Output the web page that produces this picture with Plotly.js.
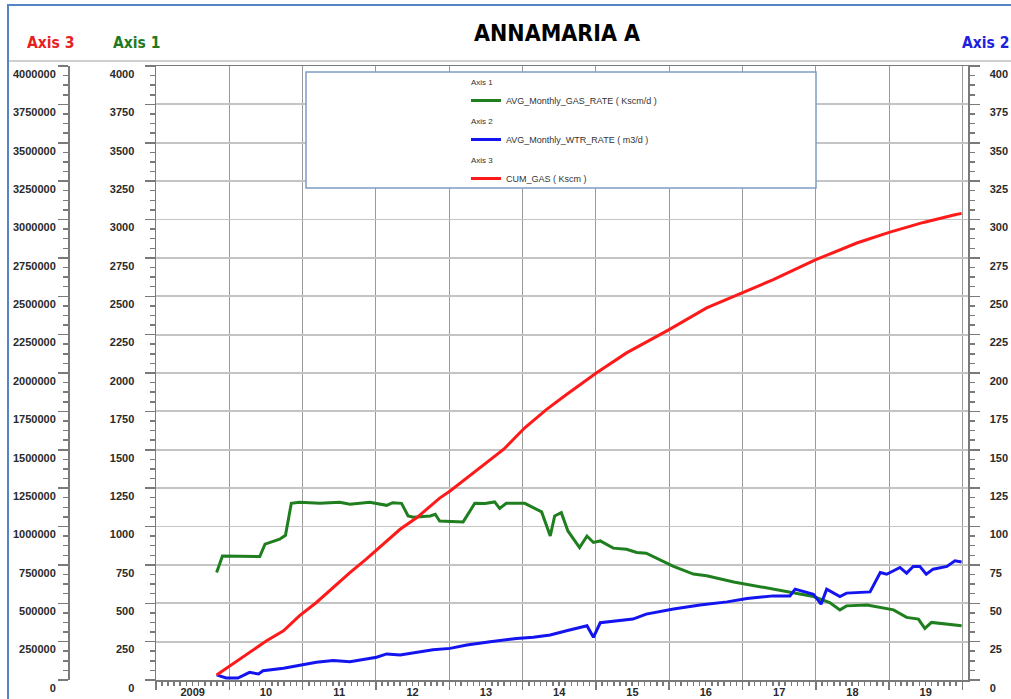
<!DOCTYPE html>
<html><head><meta charset="utf-8">
<script src="https://cdn.plot.ly/plotly-3.0.1.min.js"></script>
<style>html,body{margin:0;padding:0;background:#fff}#chart{width:1011px;height:699px}</style>
</head><body><div id="chart"></div><script>
// ---- data ----
const gasDates = ['2009-10-30','2009-11-28','2010-02-24','2010-06-02','2010-06-28','2010-09-09','2010-10-08','2010-11-06','2010-12-16','2011-03-29','2011-07-05','2011-08-25','2011-12-02','2012-02-24','2012-03-25','2012-05-08','2012-06-10','2012-07-06','2012-09-28','2012-10-23','2012-11-14','2013-03-11','2013-05-08','2013-06-28','2013-08-15','2013-09-09','2013-10-12','2014-01-12','2014-04-06','2014-05-19','2014-06-10','2014-07-13','2014-08-15','2014-10-12','2014-11-18','2014-12-20','2015-01-23','2015-03-29','2015-06-03','2015-07-24','2015-09-09','2015-11-14','2016-01-23','2016-05-01','2016-07-06','2016-11-18','2017-03-29','2017-09-09','2017-12-20','2018-03-11','2018-05-01','2018-06-03','2018-09-13','2019-01-23','2019-03-29','2019-05-27','2019-06-28','2019-07-31','2019-10-16','2019-12-28'];
const gasRate = [700,808,806,804,885,917,943,1151,1158,1152,1158,1145,1158,1138,1155,1151,1069,1060,1069,1080,1036,1030,1151,1150,1160,1118,1151,1151,1095,938,1069,1090,971,863,938,896,906,859,852,831,826,783,740,690,679,639,609,570,544,505,457,483,488,457,408,397,336,375,364,353];

const wtrDates = ['2009-10-30','2009-12-16','2010-02-13','2010-04-12','2010-05-27','2010-06-18','2010-09-28','2010-12-16','2011-03-11','2011-06-03','2011-08-25','2012-01-05','2012-02-24','2012-05-01','2012-07-24','2012-10-12','2013-01-05','2013-03-29','2013-07-24','2013-12-02','2014-02-24','2014-05-19','2014-08-08','2014-11-18','2014-12-20','2015-01-23','2015-07-05','2015-09-09','2016-01-23','2016-06-03','2016-10-16','2017-01-23','2017-06-03','2017-08-25','2017-09-20','2017-12-20','2018-01-27','2018-02-24','2018-05-01','2018-06-03','2018-09-28','2018-11-18','2018-12-20','2019-02-24','2019-03-29','2019-05-01','2019-06-03','2019-07-05','2019-08-08','2019-10-16','2019-11-25','2019-12-28'];
const wtrRate = [3.3,1.3,1.3,5,3.9,6,7.6,9.3,11.5,12.7,11.9,14.8,17,16.3,18,19.7,20.6,22.8,24.9,27.1,27.8,29.3,32.1,35.3,27.8,37.3,39.7,42.9,46.2,48.8,50.9,53.1,54.8,54.8,59.2,55.9,49.4,59.2,54.4,56.6,57.4,70,68.9,73.3,69.6,74,74,68.9,72.2,74,77.6,76.9];

const cumDates = ['2009-10-30','2010-01-19','2010-04-12','2010-07-06','2010-09-28','2010-12-16','2011-03-11','2011-06-03','2011-08-25','2011-11-14','2012-02-06','2012-05-01','2012-07-24','2012-10-12','2012-11-14','2013-01-05','2013-05-01','2013-09-28','2014-01-12','2014-05-01','2014-08-08','2015-01-05','2015-06-03','2016-01-01','2016-07-06','2017-01-05','2017-06-03','2018-01-01','2018-07-24','2019-01-01','2019-06-21','2019-11-25','2019-12-28'];
const cumGas = [33000,104000,180000,256000,321000,418000,505000,603000,700000,787000,885000,982000,1058000,1145000,1185000,1231000,1351000,1502000,1643000,1763000,1860000,2001000,2131000,2283000,2424000,2526000,2608000,2738000,2847000,2916000,2981000,3031000,3040000];

// first year is written in full, the others as two digits
const yearLabelAlias = {'09': '2009'};

const seriesNames = ['AVG_Monthly_GAS_RATE ( Kscm/d )','AVG_Monthly_WTR_RATE ( m3/d )','CUM_GAS ( Kscm )'];
const axisNames = ['Axis 1','Axis 2','Axis 3'];

// ---- styling ----
const GREEN = '#1f7f1f', BLUE = '#1414f0', RED = '#ff1a1a';
const NARROW = "'Liberation Sans Narrow', 'Arial Narrow', 'DejaVu Sans Condensed', sans-serif";
const SANS = "'Liberation Sans', Arial, sans-serif";
const tickFont = {family: SANS, size: 11, color: '#2a2a2a', weight: 'bold'};
const AX = '#7a7a7a';
const groupTitleFont = {family: SANS, size: 8, color: '#333'};

const traces = [
  {x: gasDates, y: gasRate, yaxis: 'y', xaxis: 'x', type: 'scatter', mode: 'lines', name: seriesNames[0],
   line: {color: GREEN, width: 3}, legendgroup: 'g1', legendgrouptitle: {text: axisNames[0], font: groupTitleFont}},
  {x: wtrDates, y: wtrRate, yaxis: 'y2', xaxis: 'x', type: 'scatter', mode: 'lines', name: seriesNames[1],
   line: {color: BLUE, width: 3}, legendgroup: 'g2', legendgrouptitle: {text: axisNames[1], font: groupTitleFont}},
  {x: cumDates, y: cumGas, yaxis: 'y3', xaxis: 'x', type: 'scatter', mode: 'lines', name: seriesNames[2],
   line: {color: RED, width: 3}, legendgroup: 'g3', legendgrouptitle: {text: axisNames[2], font: groupTitleFont}}
];

const W = 908, H = 614, L = 60, T = 66; // plotting paper size
const px = v => (v - L) / W;
const py = v => (T + H - v) / H;

const yCommon = {
  ticks: 'outside', ticklen: 10, tickwidth: 1.5, tickcolor: AX,
  showline: true, linecolor: AX, linewidth: 1.5,
  tickfont: tickFont, tickformat: 'd', zeroline: false, ticklabelshift: 8
};

const layout = {
  width: 1011, height: 699,
  margin: {l: L, r: 1011 - L - W, t: T, b: 699 - T - H},
  paper_bgcolor: '#ffffff', plot_bgcolor: '#ffffff',
  showlegend: true,
  title: {text: 'ANNAMARIA A', x: 0.551, xanchor: 'center', y: 0.953, yanchor: 'middle',
          font: {family: NARROW, size: 23, color: '#000', weight: 'bold'}},
  xaxis: {
    type: 'date', domain: [px(156), 1], range: ['2009-01-01', '2020-01-29'],
    tick0: '2009-01-01', dtick: 'M12', tickformat: '%y', ticklabelmode: 'period',
    labelalias: yearLabelAlias, tickfont: tickFont,
    ticks: 'outside', ticklen: 8, tickwidth: 1.5, tickcolor: AX, ticklabelstandoff: -7,
    minor: {dtick: 'M1', tick0: '2009-01-01', ticks: 'outside', ticklen: 4, tickcolor: AX, showgrid: false},
    showgrid: true, gridcolor: '#9a9a9a', gridwidth: 1,
    showline: true, linecolor: AX, linewidth: 1.5, mirror: true, zeroline: false
  },
  yaxis: Object.assign({}, yCommon, {
    range: [0, 4000], dtick: 250, side: 'left', anchor: 'x',
    showgrid: true, gridcolor: '#c4c4c4', gridwidth: 1.8,
    minor: {dtick: 62.5, ticks: 'outside', ticklen: 5, tickcolor: AX, showgrid: false},
    ticklabelstandoff: 8
  }),
  yaxis2: Object.assign({}, yCommon, {
    range: [0, 400], dtick: 25, side: 'right', overlaying: 'y', anchor: 'x', showgrid: false,
    minor: {dtick: 6.25, ticks: 'outside', ticklen: 5, tickcolor: AX, showgrid: false},
    ticklabelstandoff: 8
  }),
  yaxis3: Object.assign({}, yCommon, {
    range: [0, 4000000], dtick: 250000, side: 'left', overlaying: 'y', anchor: 'free', position: px(68), showgrid: false,
    minor: {dtick: 62500, ticks: 'outside', ticklen: 5, tickcolor: AX, showgrid: false},
    ticklabelstandoff: 0
  }),
  legend: {
    x: px(466), y: py(67), xanchor: 'left', yanchor: 'top',
    bgcolor: 'rgba(0,0,0,0)', borderwidth: 0,
    font: {family: SANS, size: 9, color: '#333'},
    tracegroupgap: 1, itemwidth: 30, traceorder: 'grouped'
  },
  shapes: [
    {type: 'rect', xref: 'paper', yref: 'paper', x0: px(306), x1: px(816), y0: py(188), y1: py(72),
     line: {color: '#7d9cc6', width: 1.5}, fillcolor: '#ffffff', layer: 'above'},
    {type: 'line', xref: 'paper', yref: 'paper', x0: px(9), x1: px(1011), y0: py(61), y1: py(61),
     line: {color: '#cfcfcf', width: 2}},
    {type: 'rect', xref: 'paper', yref: 'paper', x0: px(8), x1: px(1030), y0: py(720), y1: py(5),
     line: {color: '#5585c5', width: 2}, fillcolor: 'rgba(0,0,0,0)'}
  ],
  annotations: [
    {text: 'Axis 3', xref: 'paper', yref: 'paper', x: px(50), y: py(43), xanchor: 'center', yanchor: 'middle', showarrow: false,
     font: {family: NARROW, size: 15.5, color: '#e8201c', weight: 'bold'}},
    {text: 'Axis 1', xref: 'paper', yref: 'paper', x: px(136), y: py(43), xanchor: 'center', yanchor: 'middle', showarrow: false,
     font: {family: NARROW, size: 15.5, color: '#1f7a1f', weight: 'bold'}},
    {text: 'Axis 2', xref: 'paper', yref: 'paper', x: px(985), y: py(43), xanchor: 'center', yanchor: 'middle', showarrow: false,
     font: {family: NARROW, size: 15.5, color: '#2020e0', weight: 'bold'}}
  ]
};

Plotly.newPlot('chart', traces, layout, {displayModeBar: false, staticPlot: true});
</script></body></html>
